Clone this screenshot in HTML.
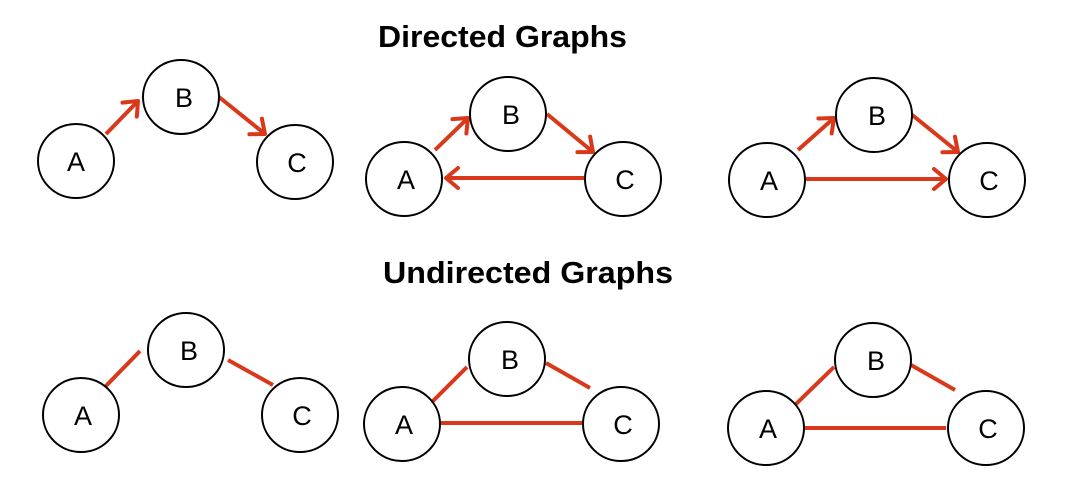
<!DOCTYPE html>
<html><head><meta charset="utf-8"><style>
html,body{margin:0;padding:0;background:#fff;}
svg{display:block}
</style></head><body>
<svg width="1076" height="492" viewBox="0 0 1076 492" xmlns="http://www.w3.org/2000/svg">
<defs>
<marker id="ah" markerUnits="userSpaceOnUse" markerWidth="30" markerHeight="30" refX="15" refY="15" orient="auto">
<polyline points="3,5 15,15 3,25" fill="none" stroke="#d9391a" stroke-width="4" stroke-linecap="round" stroke-linejoin="round"/>
</marker>
</defs>
<g font-family="Liberation Sans, sans-serif" font-weight="bold" font-size="31" fill="#000">
<text x="378" y="47" textLength="249" lengthAdjust="spacingAndGlyphs">Directed Graphs</text>
<text x="383" y="283" textLength="290" lengthAdjust="spacingAndGlyphs">Undirected Graphs</text>
</g>
<g stroke="#d9391a" stroke-width="4" fill="none">
<!-- directed 1 -->
<line x1="106" y1="134" x2="138" y2="101" marker-end="url(#ah)"/>
<line x1="219" y1="97" x2="265" y2="134" marker-end="url(#ah)"/>
<!-- directed 2 -->
<line x1="435" y1="150" x2="468" y2="118" marker-end="url(#ah)"/>
<line x1="547" y1="114" x2="593" y2="152" marker-end="url(#ah)"/>
<line x1="584" y1="178" x2="446" y2="178" marker-end="url(#ah)"/>
<!-- directed 3 -->
<line x1="798" y1="150" x2="834" y2="118" marker-end="url(#ah)"/>
<line x1="911" y1="114" x2="958" y2="152" marker-end="url(#ah)"/>
<line x1="806" y1="179" x2="946" y2="179" marker-end="url(#ah)"/>
<!-- undirected -->
<line x1="102" y1="390" x2="140" y2="351"/>
<line x1="228" y1="360" x2="273" y2="385"/>
<line x1="429" y1="405" x2="467" y2="367"/>
<line x1="546" y1="363" x2="590" y2="388"/>
<line x1="441" y1="423" x2="582" y2="423"/>
<line x1="795" y1="405" x2="834" y2="367"/>
<line x1="911" y1="365" x2="955" y2="390"/>
<line x1="805" y1="428" x2="946" y2="428"/>
</g>
<g stroke="#000" stroke-width="2" fill="#fff">
<ellipse cx="76" cy="161" rx="38" ry="37"/>
<ellipse cx="181" cy="97" rx="38" ry="37"/>
<ellipse cx="295" cy="162" rx="38" ry="37"/>
<ellipse cx="404" cy="179" rx="38" ry="37"/>
<ellipse cx="508" cy="114" rx="38" ry="37"/>
<ellipse cx="623" cy="179" rx="38" ry="37"/>
<ellipse cx="767" cy="180" rx="38" ry="37"/>
<ellipse cx="874" cy="115" rx="38" ry="37"/>
<ellipse cx="987" cy="180" rx="38" ry="37"/>
<ellipse cx="81" cy="415" rx="38" ry="37"/>
<ellipse cx="186" cy="350" rx="38" ry="37"/>
<ellipse cx="300" cy="415" rx="38" ry="37"/>
<ellipse cx="402" cy="424" rx="38" ry="37"/>
<ellipse cx="507" cy="359" rx="38" ry="37"/>
<ellipse cx="621" cy="424" rx="38" ry="37"/>
<ellipse cx="766" cy="428" rx="38" ry="37"/>
<ellipse cx="873" cy="360" rx="38" ry="37"/>
<ellipse cx="986" cy="428" rx="38" ry="37"/>
</g>
<g font-family="Liberation Sans, sans-serif" font-size="27" fill="#000" text-anchor="middle">
<text x="76" y="171">A</text><text x="184" y="107">B</text><text x="297" y="172">C</text>
<text x="406" y="189">A</text><text x="511" y="124">B</text><text x="625" y="189">C</text>
<text x="769" y="190">A</text><text x="877" y="125">B</text><text x="989" y="190">C</text>
<text x="83" y="425">A</text><text x="189" y="360">B</text><text x="302" y="425">C</text>
<text x="404" y="434">A</text><text x="510" y="369">B</text><text x="623" y="434">C</text>
<text x="768" y="438">A</text><text x="876" y="370">B</text><text x="988" y="438">C</text>
</g>
</svg>
</body></html>
